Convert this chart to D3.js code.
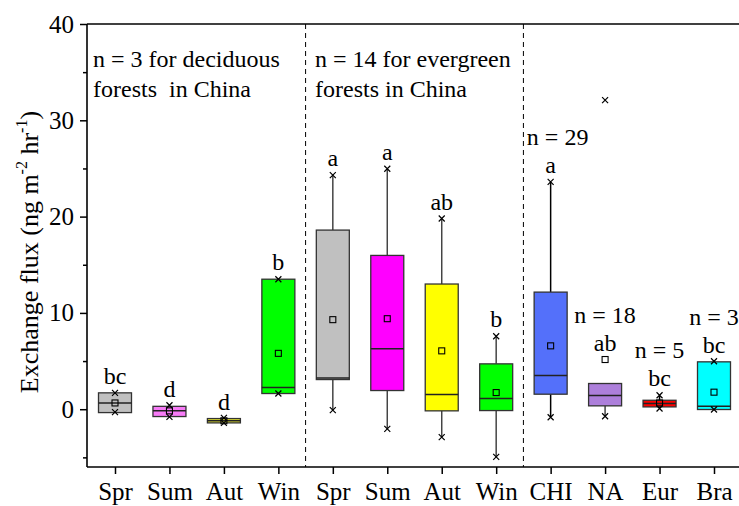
<!DOCTYPE html>
<html>
<head>
<meta charset="utf-8">
<script src="https://cdn.jsdelivr.net/npm/d3@7"></script>
<style>
  html, body { margin: 0; padding: 0; background: #fff; }
  svg { display: block; }
  text { font-family: "Liberation Serif", "Times New Roman", serif; }
</style>
</head>
<body>
<svg id="chart" width="739" height="506"></svg>
<script>
// Categories: deciduous (China), evergreen (China), then regions
const categories = ["Spr", "Sum", "Aut", "Win", "Spr", "Sum", "Aut", "Win", "CHI", "NA", "Eur", "Bra"];

// Box statistics (ng m-2 hr-1)
const q1        = [-0.35, -0.76, -1.42, 1.63,  3.08,  1.94, -0.17, -0.14,  1.56,  0.35, 0.24, -0.03];
const median    = [ 0.65, -0.17, -1.20, 2.25,  3.25,  6.27,  1.52,  1.10,  3.50,  1.42, 0.59,  0.31];
const q3        = [ 1.70,  0.30, -0.97, 13.5, 18.60, 15.97, 13.00,  4.71, 12.16,  2.67, 0.93,  4.92];
const mean      = [ 0.65, -0.17, -1.20, 5.80,  9.30,  9.40,  6.06,  1.73,  6.58,  5.16, 0.65,  1.77];
const whiskLow  = [-0.35, -0.76, -1.42, 1.63, -0.10, -2.04, -2.90, -4.95, -0.83, -0.73, 0.07, -0.03];
const whiskHigh = [ 1.70,  0.30, -0.97, 13.5, 24.30, 24.97, 19.80,  7.58, 23.60,  2.67, 1.45,  4.92];
const minMark   = [-0.30, -0.80, -1.42, 1.63, -0.10, -2.04, -2.90, -4.95, -0.83, -0.73, 0.07, -0.03];
const maxMark   = [ 1.70,  0.41, -0.90, 13.5, 24.30, 24.97, 19.80,  7.58, 23.60, 32.10, 1.45,  4.98];

const fills = ["#c0c0c0", "#f77bf7", "#e6e62e", "#00ff00",
               "#c0c0c0", "#ff00ff", "#ffff00", "#00ff00",
               "#5470fa", "#ad7fdb", "#ff0000", "#00ffff"];

// Significance letters and sample sizes
const letters = ["bc", "d", "d", "b", "a", "a", "ab", "b", "a", "ab", "bc", "bc"];
const sampleSizes = ["", "", "", "", "", "", "", "", "n = 29", "n = 18", "n = 5", "n = 3"];
const groupNotes = [["n = 3 for deciduous", "forests  in China"], ["n = 14 for evergreen", "forests in China"]];

const yTicks = [0, 10, 20, 30, 40];
const yMinor = [-5, 5, 15, 25, 35];

const serif = "Liberation Serif";
const svg = d3.select("#chart").attr("font-family", serif);
const plotLeft = 87, plotTop = 24, plotBottom = 467, plotRight = 745;

const x = d3.scalePoint().domain(d3.range(categories.length)).range([115, 714]);
const y = d3.scaleLinear().domain([-6, 40]).range([plotBottom, plotTop]);
const boxW = 33;
const fs = 24;

// Group dividers
[3, 7].forEach(i => {
  const px = x(i) + x.step() / 2;
  svg.append("line").attr("x1", px).attr("x2", px).attr("y1", plotTop).attr("y2", plotBottom)
    .attr("stroke", "#000").attr("stroke-width", 1).attr("stroke-dasharray", "5,4");
});

// Boxes
const idx = d3.range(categories.length);
const g = svg.append("g");
idx.forEach(i => {
  const cx = x(i);
  const col = i >= 8 && i !== 9 ? "#000" : "#444";
  // whiskers
  if (whiskHigh[i] > q3[i])
    g.append("line").attr("x1", cx).attr("x2", cx).attr("y1", y(q3[i])).attr("y2", y(whiskHigh[i]))
      .attr("stroke", col).attr("stroke-width", 1.5);
  if (whiskLow[i] < q1[i])
    g.append("line").attr("x1", cx).attr("x2", cx).attr("y1", y(q1[i])).attr("y2", y(whiskLow[i]))
      .attr("stroke", col).attr("stroke-width", 1.5);
  g.append("rect").attr("x", cx - boxW / 2).attr("width", boxW)
    .attr("y", y(q3[i])).attr("height", Math.max(1, y(q1[i]) - y(q3[i])))
    .attr("fill", fills[i]).attr("stroke", "#333").attr("stroke-width", 1.3);
  g.append("line").attr("x1", cx - boxW / 2).attr("x2", cx + boxW / 2)
    .attr("y1", y(median[i])).attr("y2", y(median[i]))
    .attr("stroke", "#222").attr("stroke-width", 1.5);
  // mean square
  g.append("rect").attr("x", cx - 3).attr("y", y(mean[i]) - 3).attr("width", 6).attr("height", 6)
    .attr("fill", "none").attr("stroke", "#000").attr("stroke-width", 1.1);
  // min/max crosses
  [minMark[i], maxMark[i]].forEach(v => {
    const py = y(v);
    g.append("path").attr("d", `M${cx - 3},${py - 3}L${cx + 3},${py + 3}M${cx - 3},${py + 3}L${cx + 3},${py - 3}`)
      .attr("stroke", "#000").attr("stroke-width", 1.2);
  });
  // letters above the top mark
  const anchor = y(Math.max(whiskHigh[i], mean[i])) - 9;
  svg.append("text").attr("x", cx).attr("y", anchor).attr("text-anchor", "middle")
    .attr("font-family", serif).attr("font-size", fs).attr("fill", "#000").text(letters[i]);
  if (sampleSizes[i])
    svg.append("text").attr("x", cx + (i === 8 ? 7 : 0)).attr("y", anchor - 28).attr("text-anchor", "middle")
      .attr("font-family", serif).attr("font-size", fs).attr("fill", "#000").text(sampleSizes[i]);
});

// Group notes
groupNotes.forEach((lines, k) => {
  const tx = k === 0 ? 93 : 315;
  lines.forEach((s, j) => {
    svg.append("text").attr("x", tx).attr("y", 67 + j * 30)
      .attr("font-family", serif).attr("font-size", fs)
      .attr("fill", "#000").style("white-space", "pre").text(s);
  });
});

// Frame
svg.append("line").attr("x1", plotLeft).attr("x2", plotRight).attr("y1", plotTop).attr("y2", plotTop)
  .attr("stroke", "#000").attr("stroke-width", 1.6);

// Y axis
const yAxis = svg.append("g").attr("transform", `translate(${plotLeft},0)`)
  .call(d3.axisLeft(y).tickValues(yTicks).tickSize(7).tickPadding(6).tickFormat(d3.format("d")));
yAxis.select(".domain").attr("d", `M0,${plotTop}V${plotBottom}`).attr("stroke-width", 1.6);
yAxis.selectAll(".tick line").attr("stroke-width", 1.5);
yAxis.selectAll(".tick text").attr("font-size", 25).attr("font-family", serif).attr("fill", "#000");
svg.append("g").attr("transform", `translate(${plotLeft},0)`)
  .call(d3.axisLeft(y).tickValues(yMinor).tickSize(4).tickFormat(""))
  .call(s => s.select(".domain").remove())
  .selectAll(".tick line").attr("stroke-width", 1.5);

// X axis
const xAxis = svg.append("g").attr("transform", `translate(0,${plotBottom})`)
  .call(d3.axisBottom(x).tickSize(7).tickPadding(8).tickFormat(i => categories[i]));
xAxis.select(".domain").attr("d", `M${plotLeft},0H${plotRight}`).attr("stroke-width", 1.6);
xAxis.selectAll(".tick line").attr("stroke-width", 1.5);
xAxis.selectAll(".tick text").attr("font-size", 25).attr("font-family", serif).attr("fill", "#000");

// Y title
const title = svg.append("text").attr("transform", "translate(38,252) rotate(-90)")
  .attr("text-anchor", "middle").attr("font-family", serif).attr("font-size", 26).attr("fill", "#000");
title.append("tspan").text("Exchange flux (ng m");
title.append("tspan").attr("font-size", 16).attr("dy", -11).text("-2");
title.append("tspan").attr("dy", 11).text(" hr");
title.append("tspan").attr("font-size", 16).attr("dy", -11).text("-1");
title.append("tspan").attr("dy", 11).text(")");
</script>
</body>
</html>
